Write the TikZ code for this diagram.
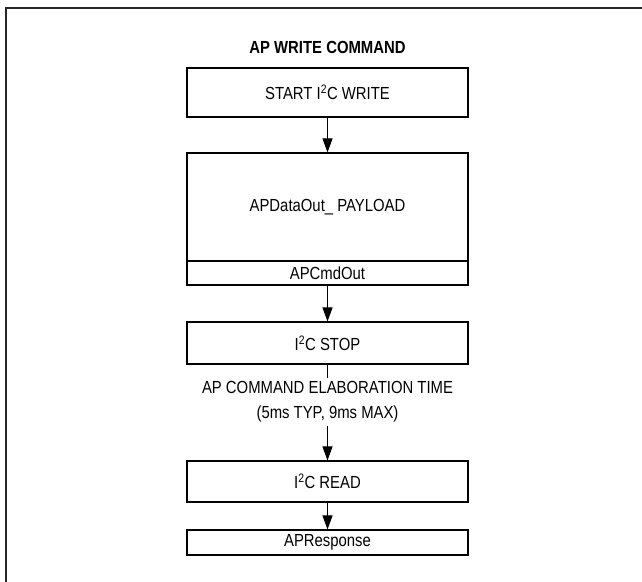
\documentclass[tikz,border=0pt]{standalone}
\usepackage{fontspec}
\setmainfont[FakeStretch=0.85]{Liberation Sans}
\usetikzlibrary{arrows.meta, positioning}

\begin{document}
\begin{tikzpicture}[x=1pt, y=-1pt, line width=1.1pt,
  blk/.style={draw, rectangle, minimum width=281pt, inner sep=0pt, font=\fontsize{17.5}{25}\selectfont},
  arr/.style={-{Triangle[length=14pt, width=10pt]}, line width=1pt}]
\useasboundingbox (0,0) rectangle (642,581);
\draw[line width=2pt, black!85] (6,590) -- (6,8) -- (650,8);
\node[font=\bfseries\fontsize{17.5}{20}\selectfont] (title) at (327.5,47) {AP WRITE COMMAND};
\node[blk, minimum height=49pt] (start) at (327.5,92.5) {START I\textsuperscript{2}C WRITE};
\node[blk, minimum height=108pt] (payload) at (327.5,207) {APDataOut\_ PAYLOAD};
\node[blk, minimum height=24pt] (cmdout) at (327.5,273) {APCmdOut};
\node[blk, minimum height=42pt] (stop) at (327.5,343) {I\textsuperscript{2}C STOP};
\node[align=center, inner xsep=2pt, inner ysep=3pt, font=\fontsize{17.5}{25}\selectfont] (elab) at (327.5,402) {AP COMMAND ELABORATION TIME\\(5ms TYP, 9ms MAX)};
\node[blk, minimum height=41pt] (read) at (327.5,481.5) {I\textsuperscript{2}C READ};
\node[blk, minimum height=25pt] (resp) at (327.5,542.5) {APResponse};
\draw[arr] (start) -- (payload);
\draw[arr] (cmdout) -- (stop);
\draw[line width=1pt] (stop) -- (elab);
\draw[arr] (elab) -- (read);
\draw[arr] (read) -- (resp);
\end{tikzpicture}
\end{document}
